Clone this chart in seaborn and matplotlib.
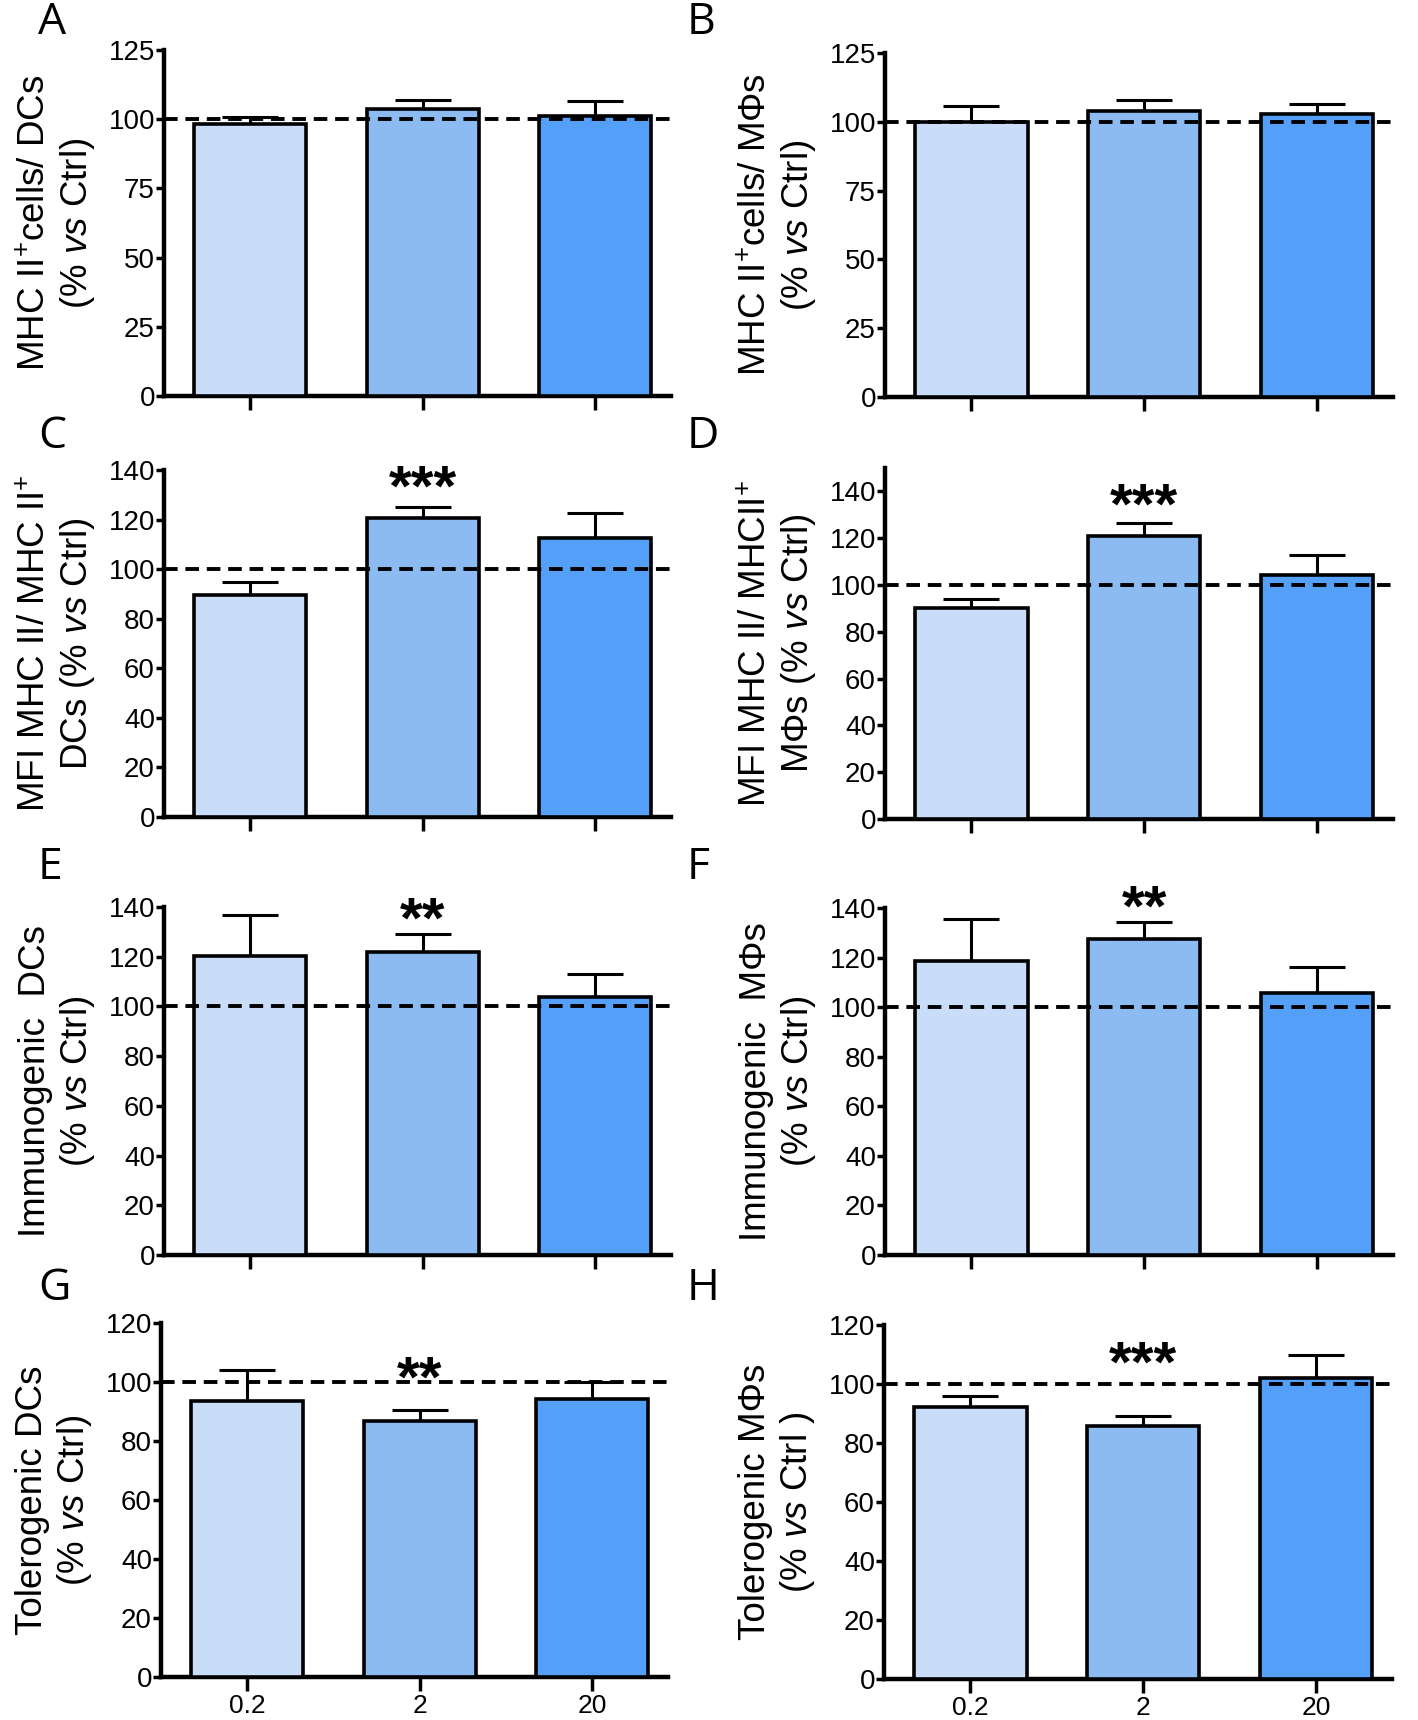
import matplotlib
matplotlib.use("Agg")
import matplotlib.pyplot as plt
import seaborn as sns

# doses (x categories)
doses = ['0.2', '2', '20']
colors = ['#c9ddf9', '#8bbbf1', '#54a0f9']

# bar means and upper SEM per panel
a_mean = [98.3, 103.6, 101.2]
a_err = [2.6, 3.2, 5.3]
b_mean = [99.9, 103.9, 102.7]
b_err = [6.0, 4.0, 3.6]
c_mean = [89.5, 120.5, 112.5]
c_err = [5.3, 4.4, 10.2]
d_mean = [90.0, 121.1, 104.3]
d_err = [3.9, 5.2, 8.6]
e_mean = [120.1, 121.9, 103.8]
e_err = [16.8, 7.1, 9.3]
f_mean = [118.7, 127.6, 105.9]
f_err = [16.9, 6.6, 10.2]
g_mean = [93.7, 86.7, 94.3]
g_err = [10.5, 3.7, 5.8]
h_mean = [92.2, 85.9, 102.1]
h_err = [3.9, 3.1, 7.9]

# significance marks (text, y position) over the middle bar
stars = {'C': ('***', 138.7), 'D': ('***', 140), 'E': ('**', 140.4),
         'F': ('**', 146), 'G': ('**', 106), 'H': ('***', 111.5)}

vs = r'$\it{vs}$'
ylabels = {
    'A': 'MHC II$^{+}$cells/ DCs\n(% ' + vs + ' Ctrl)',
    'B': 'MHC II$^{+}$cells/ MΦs\n(% ' + vs + ' Ctrl)',
    'C': 'MFI MHC II/ MHC II$^{+}$\nDCs (% ' + vs + ' Ctrl)',
    'D': 'MFI MHC II/ MHCII$^{+}$\nMΦs (% ' + vs + ' Ctrl)',
    'E': 'Immunogenic  DCs\n(% ' + vs + ' Ctrl)',
    'F': 'Immunogenic  MΦs\n(% ' + vs + ' Ctrl)',
    'G': 'Tolerogenic DCs\n(% ' + vs + ' Ctrl)',
    'H': 'Tolerogenic MΦs\n(% ' + vs + ' Ctrl )',
}

sns.set_style('white', rc={'axes.edgecolor': 'black', 'text.color': 'black',
                           'axes.labelcolor': 'black', 'xtick.color': 'black',
                           'ytick.color': 'black'})
plt.rcParams['font.family'] = ['Liberation Sans', 'DejaVu Sans']
plt.rcParams['mathtext.fontset'] = 'custom'
plt.rcParams['mathtext.rm'] = 'Liberation Sans'
plt.rcParams['mathtext.it'] = 'Liberation Sans:italic'

W, H = 1418, 1720
fig = plt.figure(figsize=(W / 100, H / 100), dpi=100)

# axes boxes in pixels: left, top, right, bottom, ymax
boxes = {
    'A': (164, 50, 671, 396, 125),
    'B': (885, 53, 1393, 397, 125),
    'C': (164, 470, 671, 817, 140),
    'D': (885, 468, 1393, 819, 150),
    'E': (164, 907, 671, 1255, 140),
    'F': (885, 908, 1393, 1255, 140),
    'G': (161, 1323, 668, 1677, 120),
    'H': (884, 1325, 1392, 1679, 120),
}
data = {'A': (a_mean, a_err), 'B': (b_mean, b_err), 'C': (c_mean, c_err),
        'D': (d_mean, d_err), 'E': (e_mean, e_err), 'F': (f_mean, f_err),
        'G': (g_mean, g_err), 'H': (h_mean, h_err)}
yticks = {125: range(0, 126, 25), 140: range(0, 141, 20), 150: range(0, 141, 20),
          120: range(0, 121, 20)}

narrow = ['Liberation Sans Narrow', 'Liberation Sans', 'DejaVu Sans']

for key, (l, t, r, b, ymax) in boxes.items():
    ax = fig.add_axes([l / W, 1 - b / H, (r - l) / W, (b - t) / H])
    mean, err = data[key]
    sns.barplot(x=doses, y=mean, hue=doses, palette=colors, legend=False,
                saturation=1, width=0.65, edgecolor='black', linewidth=2.6,
                ax=ax, zorder=3)
    ax.errorbar(range(3), mean, yerr=[[0, 0, 0], err], fmt='none',
                ecolor='black', elinewidth=2.2, capsize=20, capthick=2.2, zorder=2)
    ax.axhline(100, color='black', lw=2.8, ls=(0, (3.5, 2)), zorder=4)
    ax.set_xlim(-0.5, 2.44)
    ax.set_ylim(0, ymax)
    ax.set_yticks(list(yticks[ymax]))
    sns.despine(ax=ax)
    for s in ['left', 'bottom']:
        ax.spines[s].set_linewidth(3.2)
    ax.tick_params(axis='y', direction='out', length=5.5, width=2.5, left=True,
                   labelsize=20, pad=1)
    ax.tick_params(axis='x', direction='out', length=10, width=2.5, bottom=True,
                   labelsize=19, pad=2)
    for lab in ax.get_yticklabels() + ax.get_xticklabels():
        lab.set_family(narrow)
    if key not in ('G', 'H'):
        ax.set_xticklabels([])
    ax.set_xlabel('')
    ax.set_ylabel(ylabels[key], fontsize=26.5, labelpad=8, linespacing=1.2)
    if key in stars:
        txt, ys = stars[key]
        ax.annotate(txt, xy=(1, ys), xytext=(0, -23), textcoords='offset points',
                    ha='center', va='baseline', fontsize=42, fontweight='bold',
                    annotation_clip=False)
    # panel letter
    lx = 38 if key in 'ACEG' else 687
    ly = {'A': 1, 'B': 1, 'C': 415, 'D': 415, 'E': 846, 'F': 846,
          'G': 1267, 'H': 1267}[key]
    fig.text(lx / W, 1 - ly / H, key, fontsize=32, family=['Open Sans', 'DejaVu Sans'],
             ha='left', va='top')

fig.savefig('out.png', dpi=100, facecolor='white')
